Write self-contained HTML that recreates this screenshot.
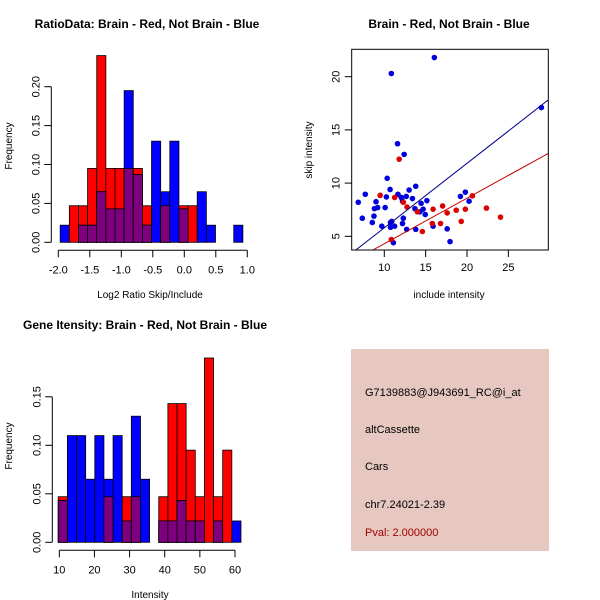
<!DOCTYPE html>
<html><head><meta charset="utf-8"><style>
html,body{margin:0;padding:0;background:#fff}
svg{display:block;font-family:"Liberation Sans",sans-serif}
</style></head><body>
<svg id="c" width="600" height="600" viewBox="0 0 600 600">
<rect width="600" height="600" fill="#fff"/>
<g id="p1"></g>
<g id="p2"></g>
<g id="p3"></g>
<g id="p4">
<rect x="351" y="349" width="198" height="202" fill="#E6C8C1"/>
<text x="365" y="396" font-size="11">G7139883@J943691_RC@i_at</text>
<text x="365" y="433" font-size="11">altCassette</text>
<text x="365" y="470" font-size="11">Cars</text>
<text x="365" y="508" font-size="11">chr7.24021-2.39</text>
<text x="365" y="536" font-size="11" fill="#A00000">Pval: 2.000000</text>
</g>
</svg>
<script>
// ---- Histogram 1 data ----
const h1Start = -1.97, h1Width = 0.145;
const h1Red  = [0,0.047,0.047,0.095,0.24,0.095,0.095,0.095,0.095,0.047,0,0.047,0,0.047,0.047,0,0,0,0,0];
const h1Blue = [0.022,0,0.022,0.022,0.065,0.043,0.043,0.195,0.087,0.022,0.13,0.065,0.13,0.043,0,0.065,0.022,0,0,0.022];
const h1XTicks = [-2.0,-1.5,-1.0,-0.5,0.0,0.5,1.0];
const h1XLabels = ["-2.0","-1.5","-1.0","-0.5","0.0","0.5","1.0"];
const h1YTicks = [0,0.05,0.10,0.15,0.20];
const h1YLabels = ["0.00","0.05","0.10","0.15","0.20"];
// ---- Histogram 2 data ----
const h2Start = 9.7, h2Width = 2.6;
const h2Red  = [0.047,0,0,0,0,0.047,0,0.047,0.047,0,0,0.047,0.143,0.143,0.095,0.047,0.19,0.047,0.095,0];
const h2Blue = [0.043,0.11,0.11,0.065,0.11,0.065,0.11,0.022,0.13,0.065,0,0.022,0.022,0.043,0.022,0.022,0,0.022,0,0.022];
const h2XTicks = [10,20,30,40,50,60];
const h2XLabels = ["10","20","30","40","50","60"];
const h2YTicks = [0,0.05,0.10,0.15];
const h2YLabels = ["0.00","0.05","0.10","0.15"];
// ---- Scatter data ----
const blueX = [6.85,7.34,7.7,8.55,8.75,8.8,9.0,9.2,9.7,10.1,10.25,10.35,10.7,10.75,10.75,10.9,10.85,11.1,11.25,11.6,11.65,12.05,12.2,12.2,12.3,12.4,12.65,12.7,13.0,13.4,13.7,13.8,13.8,14.3,14.45,14.7,14.95,15.15,16.05,15.9,17.6,17.95,19.2,19.8,20.25,29.0];
const blueY = [8.2,6.7,8.95,6.3,6.9,7.6,8.25,7.7,5.95,7.7,8.7,10.45,9.4,6.3,5.85,6.4,20.3,4.4,5.95,13.7,8.95,8.65,8.3,6.2,6.7,12.7,8.75,5.65,9.35,8.55,7.6,9.7,5.65,7.3,8.1,7.55,7.05,8.35,21.8,5.95,5.7,4.5,8.75,9.15,8.3,17.1];
const redX = [9.5,11.25,11.8,12.3,12.75,14.0,14.6,15.9,15.8,16.8,17.05,17.6,18.7,19.3,19.8,20.65,22.35,24.05,10.85];
const redY = [8.85,8.65,12.25,8.2,7.75,7.3,5.45,7.55,6.2,6.2,7.85,7.2,7.45,6.4,7.55,8.8,7.65,6.8,4.7];
const blueFit = [-0.26,0.606]; // intercept, slope
const redFit = [0.02,0.428];
const scXTicks = [10,15,20,25];
const scYTicks = [5,10,15,20];

const NS="http://www.w3.org/2000/svg";
function mk(parent,tag,attrs){const e=document.createElementNS(NS,tag);for(const k in attrs)e.setAttribute(k,attrs[k]);parent.appendChild(e);return e;}

function hist(g,cfg){
  const sx=v=>cfg.x0+(v-cfg.v0)*cfg.kx, sy=v=>cfg.y0-v*cfg.ky;
  const n=cfg.red.length;
  for(let i=0;i<n;i++){
    const a=cfg.start+i*cfg.width,b=a+cfg.width;
    const r=cfg.red[i],bl=cfg.blue[i],m=Math.min(r,bl);
    if(r>0){const e=mk(g,'rect',{x:sx(a),y:sy(r),width:sx(b)-sx(a),height:sy(0)-sy(r),fill:'#FF0000',stroke:'#000','stroke-width':0.8});
      }
    if(bl>0){const e=mk(g,'rect',{x:sx(a),y:sy(bl),width:sx(b)-sx(a),height:sy(0)-sy(bl),fill:'#0000FF',stroke:'#000','stroke-width':0.8});
      }
    if(m>0){const e=mk(g,'rect',{x:sx(a),y:sy(m),width:sx(b)-sx(a),height:sy(0)-sy(m),fill:'#7F007F',stroke:'#000','stroke-width':0.8});
      }
  }
  const ay=cfg.y0+8;
  const xa=mk(g,'g',{});
  
  mk(xa,'line',{x1:sx(cfg.xt[0]),x2:sx(cfg.xt[cfg.xt.length-1]),y1:ay,y2:ay,stroke:'#000'});
  cfg.xt.forEach((t,i)=>{mk(xa,'line',{x1:sx(t),x2:sx(t),y1:ay,y2:ay+7,stroke:'#000'});
    const tx=mk(xa,'text',{x:sx(t),y:ay+23,'font-size':11,'text-anchor':'middle'});tx.textContent=cfg.xl[i];
    });
  const ax=cfg.x0-7;
  const ya=mk(g,'g',{});
  
  mk(ya,'line',{x1:ax,x2:ax,y1:sy(cfg.yt[0]),y2:sy(cfg.yt[cfg.yt.length-1]),stroke:'#000'});
  cfg.yt.forEach((t,i)=>{mk(ya,'line',{x1:ax,x2:ax-7,y1:sy(t),y2:sy(t),stroke:'#000'});
    const tx=mk(ya,'text',{x:0,y:0,'font-size':11,'text-anchor':'middle',transform:`translate(${ax-12},${sy(t)}) rotate(-90)`});tx.textContent=cfg.yl[i];
    });
  const yt=mk(g,'text',{x:0,y:0,'font-size':10,'text-anchor':'middle',transform:`translate(12,${cfg.ymid}) rotate(-90)`});yt.textContent='Frequency';
  
  const xt=mk(g,'text',{x:cfg.xmid,y:cfg.xlabY,'font-size':10,'text-anchor':'middle'});xt.textContent=cfg.xlab;
  
  const tt=mk(g,'text',{x:cfg.tx,y:cfg.ty,'font-size':12,'font-weight':'bold','text-anchor':'middle'});tt.textContent=cfg.title;
  
}

hist(document.getElementById('p1'),{start:h1Start,width:h1Width,red:h1Red,blue:h1Blue,
  x0:58.3,v0:-2.0,kx:63,y0:242.3,ky:778,xt:h1XTicks,xl:h1XLabels,yt:h1YTicks,yl:h1YLabels,
  ymid:146,xmid:150,xlabY:298,xlab:'Log2 Ratio Skip/Include',tx:147,ty:28,title:'RatioData: Brain - Red, Not Brain - Blue'});
hist(document.getElementById('p3'),{start:h2Start,width:h2Width,red:h2Red,blue:h2Blue,
  x0:59.3,v0:10,kx:3.514,y0:542.3,ky:970,xt:h2XTicks,xl:h2XLabels,yt:h2YTicks,yl:h2YLabels,
  ymid:446,xmid:150,xlabY:598,xlab:'Intensity',tx:145,ty:329,title:'Gene Itensity: Brain - Red, Not Brain - Blue'});

// scatter
(function(){
  const g=document.getElementById('p2');
  const L=351.7,R=548.3,T=49.3,B=250;
  const sx=v=>384.3+(v-10)*8.27, sy=v=>236.3-(v-5)*10.64;
  const xmin=(L-384.3)/8.27+10, xmax=(R-384.3)/8.27+10;
  mk(g,'clipPath',{id:'clp'}).appendChild(Object.assign(document.createElementNS(NS,'rect'),{}));
  const cr=g.querySelector('#clp rect');cr.setAttribute('x',L);cr.setAttribute('y',T);cr.setAttribute('width',R-L);cr.setAttribute('height',B-T);
  blueX.forEach((x,i)=>{const c=mk(g,'circle',{cx:sx(x),cy:sy(blueY[i]),r:2.8,fill:'#0000DD'});
    });
  redX.forEach((x,i)=>{const c=mk(g,'circle',{cx:sx(x),cy:sy(redY[i]),r:2.8,fill:'#DD0000'});
    });
  const bl=mk(g,'line',{x1:sx(xmin),y1:sy(blueFit[0]+blueFit[1]*xmin),x2:sx(xmax),y2:sy(blueFit[0]+blueFit[1]*xmax),stroke:'#00008B','clip-path':'url(#clp)'});
  
  const rl=mk(g,'line',{x1:sx(xmin),y1:sy(redFit[0]+redFit[1]*xmin),x2:sx(xmax),y2:sy(redFit[0]+redFit[1]*xmax),stroke:'#CC0000','clip-path':'url(#clp)'});
  
  const box=mk(g,'rect',{x:L,y:T,width:R-L,height:B-T,fill:'none',stroke:'#000'});
  
  scXTicks.forEach(t=>{mk(g,'line',{x1:sx(t),x2:sx(t),y1:B,y2:B+7,stroke:'#000'});
    const tx=mk(g,'text',{x:sx(t),y:B+21,'font-size':11,'text-anchor':'middle'});tx.textContent=t;
    });
  scYTicks.forEach(t=>{mk(g,'line',{x1:L,x2:L-7,y1:sy(t),y2:sy(t),stroke:'#000'});
    const tx=mk(g,'text',{x:0,y:0,'font-size':11,'text-anchor':'middle',transform:`translate(${L-12},${sy(t)}) rotate(-90)`});tx.textContent=t;
    });
  const xt=mk(g,'text',{x:449,y:298,'font-size':10,'text-anchor':'middle'});xt.textContent='include intensity';
  
  const yt=mk(g,'text',{x:0,y:0,'font-size':10,'text-anchor':'middle',transform:`translate(312,150) rotate(-90)`});yt.textContent='skip intensity';
  
  const tt=mk(g,'text',{x:449,y:28,'font-size':12,'font-weight':'bold','text-anchor':'middle'});tt.textContent='Brain - Red, Not Brain - Blue';
  
})();
</script>
</body></html>
